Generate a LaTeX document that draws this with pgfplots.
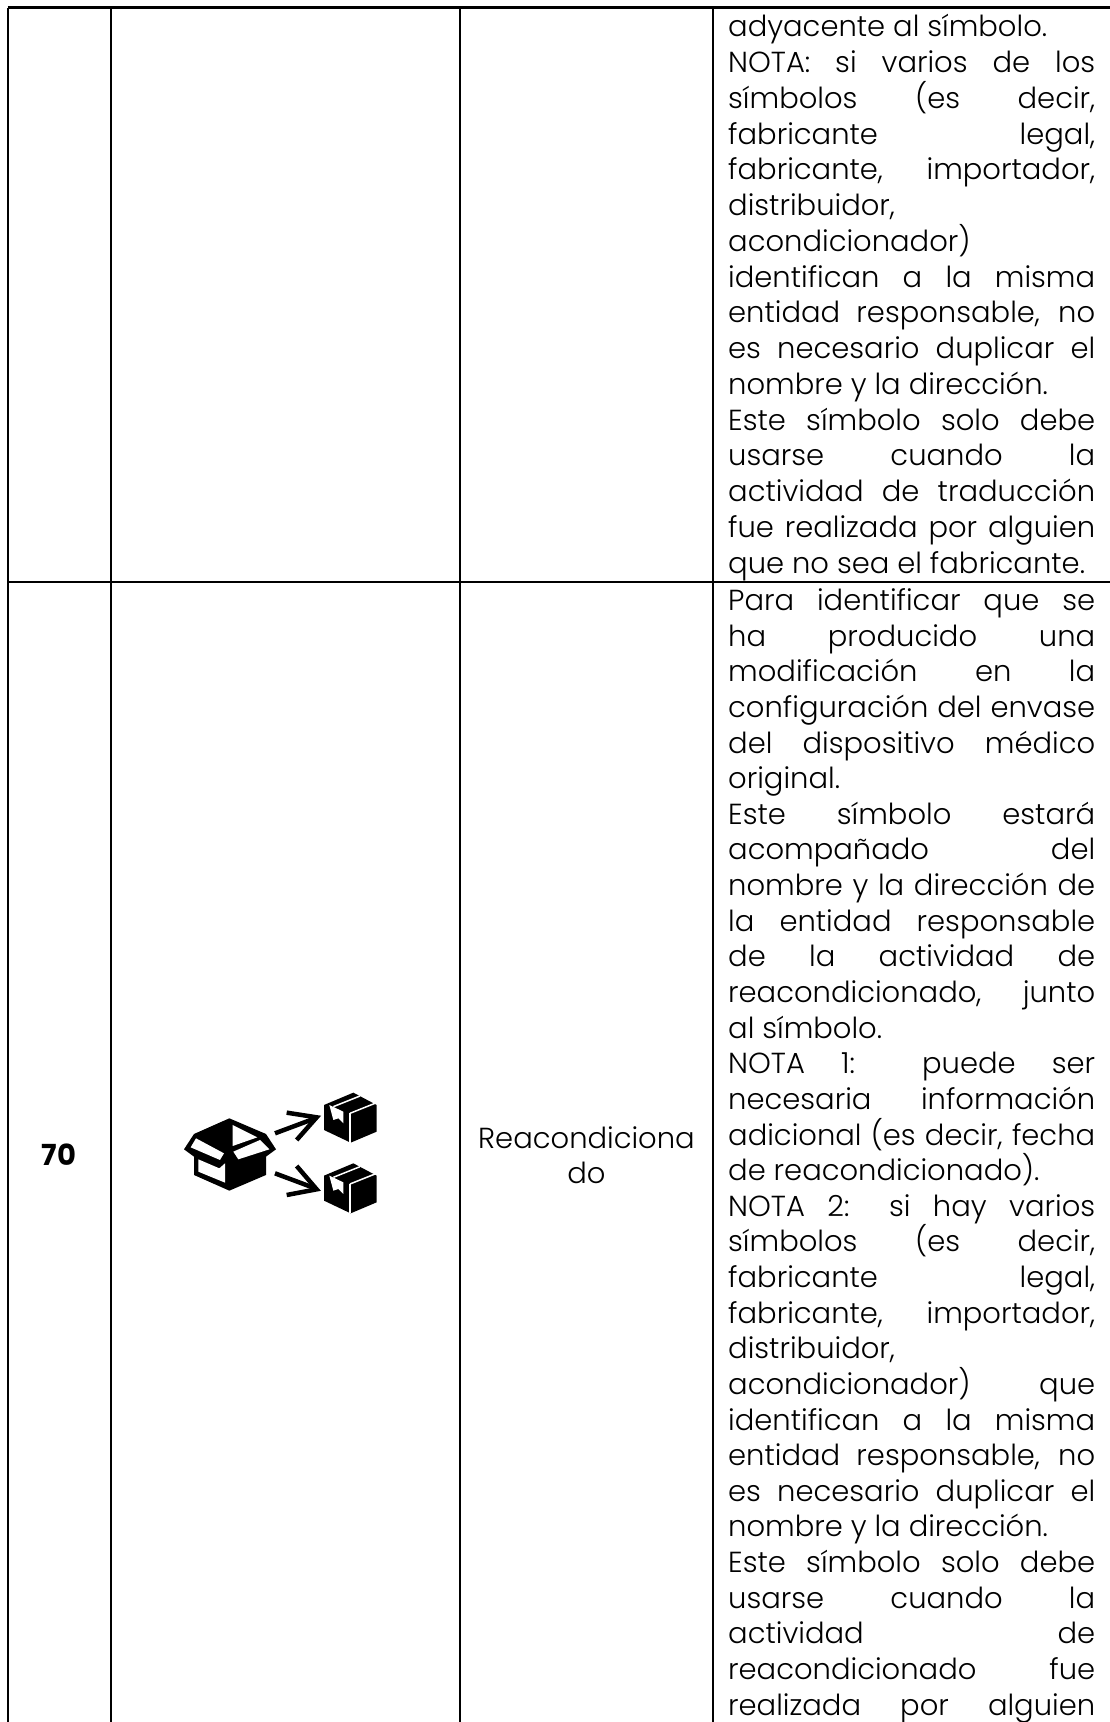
\documentclass[border=0pt]{standalone}
\usepackage{fontspec}
\setmainfont{Poppins}[UprightFont=* Light,BoldFont=* Bold]
\usepackage{pgfplots}
\pgfplotsset{compat=1.18}
\newcommand{\tfont}{\fontsize{29}{34}\selectfont}
\newcommand{\J}[2]{\node[anchor=base west,inner sep=0pt] at (axis cs:728,#1) {\tfont\makebox[367pt][s]{#2}};}
\newcommand{\Lf}[2]{\node[anchor=base west,inner sep=0pt] at (axis cs:728,#1) {\tfont #2};}
\begin{document}
\begin{tikzpicture}
\path[use as bounding box] (0pt,0pt) rectangle (1110pt,1722pt);
\begin{axis}[scale only axis,width=1110pt,height=1722pt,xmin=0,xmax=1110,ymin=0,ymax=1722,y dir=reverse,hide axis,clip=true,at={(0pt,0pt)},anchor=south west]
% table rules
\addplot[black,line width=2.2pt] coordinates {(7.7,7.5) (1110,7.5)};
\addplot[black,line width=2.2pt] coordinates {(7.7,582) (1110,582)};
\addplot[black,line width=2.2pt] coordinates {(7.7,7.5) (7.7,1722)};
\addplot[black,line width=2.2pt] coordinates {(110.7,7.5) (110.7,1722)};
\addplot[black,line width=2.2pt] coordinates {(460.3,7.5) (460.3,1722)};
\addplot[black,line width=2.2pt] coordinates {(713,7.5) (713,1722)};
% block 1
\Lf{36.8}{adyacente al símbolo.}
\J{72.6}{NOTA: si varios de los}
\J{108.3}{símbolos (es decir,}
\J{144.1}{fabricante legal,}
\J{179.8}{fabricante, importador,}
\Lf{215.6}{distribuidor,}
\Lf{251.3}{acondicionador)}
\J{287.1}{identifican a la misma}
\J{322.8}{entidad responsable, no}
\J{358.6}{es necesario duplicar el}
\Lf{394.3}{nombre y la dirección.}
\J{430.1}{Este símbolo solo debe}
\J{465.8}{usarse cuando la}
\J{501.6}{actividad de traducción}
\J{537.3}{fue realizada por alguien}
\Lf{573}{que no sea el fabricante.}
% block 2
\J{610.5}{Para identificar que se}
\J{646.1}{ha producido una}
\J{681.8}{modificación en la}
\J{717.4}{configuración del envase}
\J{753}{del dispositivo médico}
\Lf{788.7}{original.}
\J{824.3}{Este símbolo estará}
\J{859.9}{acompañado del}
\J{895.5}{nombre y la dirección de}
\J{931.2}{la entidad responsable}
\J{966.8}{de la actividad de}
\J{1002.4}{reacondicionado, junto}
\Lf{1038.1}{al símbolo.}
\J{1073.7}{NOTA 1: puede ser}
\J{1109.3}{necesaria información}
\J{1145}{adicional (es decir, fecha}
\Lf{1180.6}{de reacondicionado).}
\J{1216.2}{NOTA 2: si hay varios}
\J{1251.8}{símbolos (es decir,}
\J{1287.5}{fabricante legal,}
\J{1323.1}{fabricante, importador,}
\Lf{1358.7}{distribuidor,}
\J{1394.4}{acondicionador) que}
\J{1430}{identifican a la misma}
\J{1465.6}{entidad responsable, no}
\J{1501.3}{es necesario duplicar el}
\Lf{1536.9}{nombre y la dirección.}
\J{1572.5}{Este símbolo solo debe}
\J{1608.1}{usarse cuando la}
\J{1643.8}{actividad de}
\J{1679.4}{reacondicionado fue}
\J{1715}{realizada por alguien}
% other cells
\node[anchor=base,inner sep=0pt] at (axis cs:58.7,1165) {\tfont\bfseries 70};
\node[anchor=base,inner sep=0pt] at (axis cs:586.5,1148) {\tfont Reacondiciona};
\node[anchor=base,inner sep=0pt] at (axis cs:586.5,1183) {\tfont do};
\end{axis}
\begin{axis}[scale only axis,width=220pt,height=160pt,xmin=0,xmax=660,ymin=0,ymax=480,y dir=reverse,hide axis,clip=false,at={(170pt,502pt)},anchor=south west]
% large open box
\addplot[fill=black,draw=none] coordinates {(178,175) (288,222) (318,268) (288,290) (288,345) (178,392) (72,345) (72,290) (42,268) (72,222)} --cycle;
\addplot[fill=white,draw=none] coordinates {(188,195) (262,232) (188,258)} --cycle;
\addplot[fill=white,draw=none] coordinates {(78,235) (162,280) (150,300) (62,262)} --cycle;
\addplot[fill=white,draw=none] coordinates {(270,240) (298,268) (205,298) (190,275)} --cycle;
\addplot[fill=white,draw=none] coordinates {(85,298) (148,325) (165,310) (165,368) (85,335)} --cycle;
% arrows
\addplot[black,line width=4.5pt] coordinates {(315,220) (438,174)};
\addplot[black,line width=4.5pt] coordinates {(350,158) (440,172) (380,240)};
\addplot[black,line width=4.5pt] coordinates {(315,340) (438,386)};
\addplot[black,line width=4.5pt] coordinates {(380,318) (440,388) (350,405)};
% small box top
\addplot[fill=black,draw=none] coordinates {(462,135) (550,98) (620,135) (620,215) (542,248) (462,210)} --cycle;
\addplot[white,line width=1.5pt] coordinates {(540,160) (540,248)};
\addplot[white,line width=1.5pt] coordinates {(540,160) (620,128)};
\addplot[white,line width=1.5pt] coordinates {(490,140) (570,108)};
\addplot[fill=white,draw=none] coordinates {(478,135) (520,155) (520,190) (505,175) (490,180)} --cycle;
% small box bottom
\addplot[fill=black,draw=none] coordinates {(462,347) (550,310) (620,347) (620,427) (542,460) (462,422)} --cycle;
\addplot[white,line width=1.5pt] coordinates {(540,372) (540,460)};
\addplot[white,line width=1.5pt] coordinates {(540,372) (620,340)};
\addplot[white,line width=1.5pt] coordinates {(490,352) (570,320)};
\addplot[fill=white,draw=none] coordinates {(478,347) (520,367) (520,402) (505,387) (490,392)} --cycle;
\end{axis}
\end{tikzpicture}
\end{document}
